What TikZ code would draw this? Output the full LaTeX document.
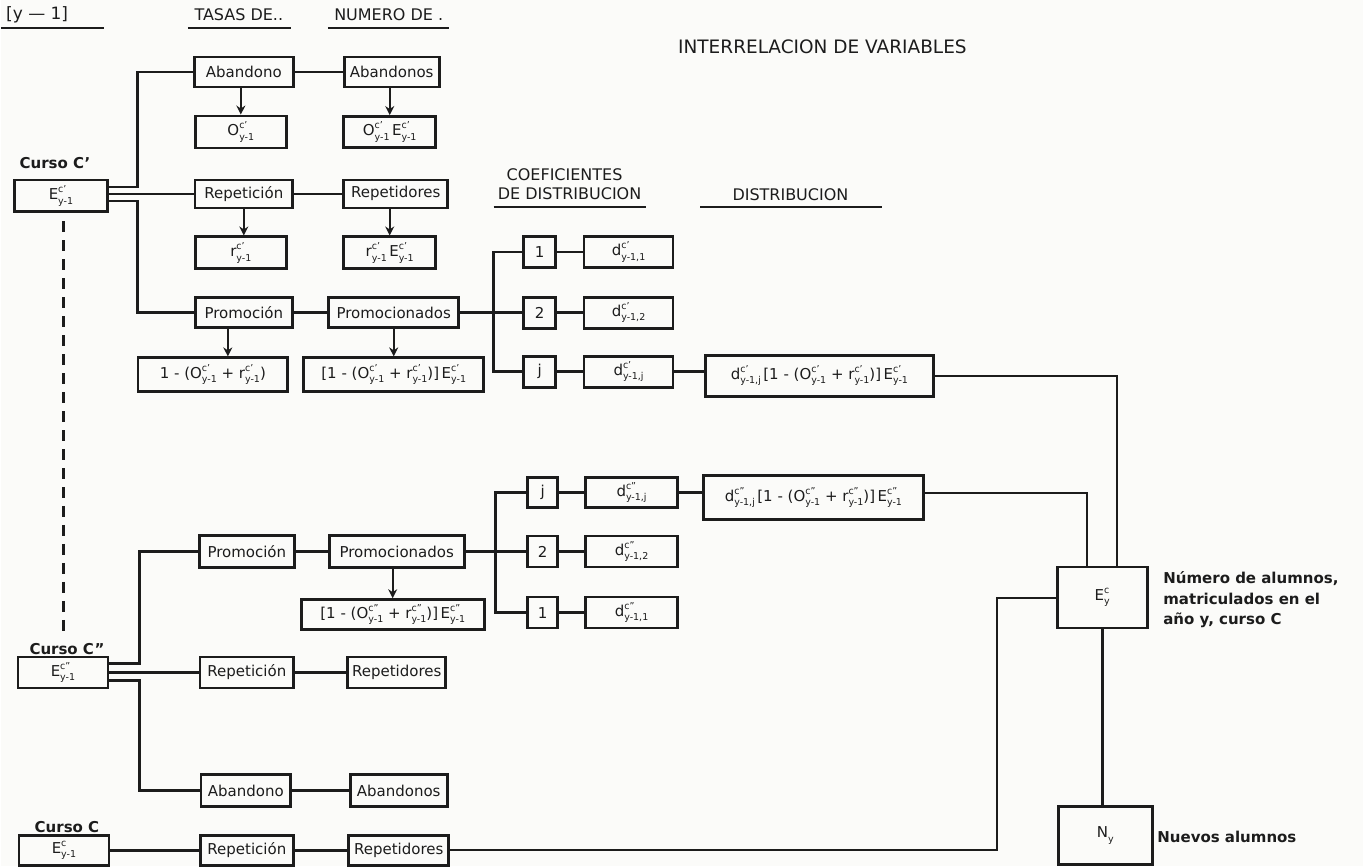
\documentclass[tikz,border=0pt]{standalone}
\usepackage{fontspec}
\setmainfont{DejaVu Sans}
\usetikzlibrary{arrows.meta,calc}
\definecolor{ink}{RGB}{28,28,28}
\definecolor{paper}{RGB}{251,251,249}
% variable with superscript course index and subscript year
\newcommand\vr[3]{#1\begingroup\fontsize{9.5}{9.5}\selectfont
  \rlap{\raisebox{7pt}{#2}}\raisebox{-4.5pt}{#3}\endgroup}
\newcommand\sbx[2]{#1\begingroup\fontsize{9.5}{9.5}\selectfont\raisebox{-4.5pt}{#2}\endgroup}
\begin{document}
\begin{tikzpicture}[x=1pt,y=-1pt,
  bx/.style={draw=ink, line width=2.7pt, inner sep=0pt, text=ink,
             font=\fontsize{15}{17}\selectfont},
  sz/.style 2 args={minimum width=#1pt, minimum height=#2pt},
  ln/.style={draw=ink, line width=2.6pt},
  lnt/.style={draw=ink, line width=2pt},
  arr/.style={draw=ink, line width=2.2pt, -{Stealth[length=9pt,width=9pt]}},
  hdr/.style={font=\fontsize{16}{18}\selectfont, text=ink, inner sep=0pt},
  ul/.style={draw=ink, line width=2pt},
  cur/.style={font=\bfseries\fontsize{15}{17}\selectfont, text=ink, inner sep=0pt},
  note/.style={font=\bfseries\fontsize{15}{20.5}\selectfont, text=ink, inner sep=0pt, align=left},
]
\fill[paper] (0,0) rectangle (1363,867);

% ---------------- headings
\node[hdr, font=\fontsize{17}{19}\selectfont, anchor=west] (hy) at (5,15) {[y — 1]};
\node[hdr] (htasa) at (238,15) {TASAS DE..};
\node[hdr] (hnum) at (388,15) {NUMERO DE .};
\node[hdr, font=\fontsize{18.5}{20}\selectfont] (htit) at (822,47) {INTERRELACION DE VARIABLES};
\node[hdr] (hcoef) at (564,175) {COEFICIENTES};
\node[hdr] (hcoef2) at (569,194) {DE DISTRIBUCION};
\node[hdr] (hdist) at (790,195) {DISTRIBUCION};
\draw[ul] (0,28) -- (103,28);
\draw[ul] (187,28) -- (290,28);
\draw[ul] (327,28) -- (448,28);
\draw[ul] (493,207) -- (645,207);
\draw[ul] (700,207) -- (882,207);

% ---------------- course C'
\node[cur] (lC1) at (54,163) {Curso C'};
\node[bx,sz={93}{32}] (E1) at (60,196) {\vr{E}{c'}{y-1}};
\node[bx,sz={99}{30}] (ab1) at (243,72) {Abandono};
\node[bx,sz={95}{30}] (abn1) at (391,72) {Abandonos};
\node[bx,sz={91}{32}] (o1) at (240,132) {\vr{O}{c'}{y-1}};
\node[bx,sz={92}{31}] (on1) at (389,132) {\vr{O}{c'}{y-1}\,\vr{E}{c'}{y-1}};
\node[bx,sz={98}{28}] (rp1) at (243,194) {Repetición};
\node[bx,sz={104}{28}] (rpn1) at (395,194) {Repetidores};
\node[bx,sz={91}{32}] (r1) at (240,253) {\vr{r}{c'}{y-1}};
\node[bx,sz={92}{32}] (rn1) at (389,253) {\vr{r}{c'}{y-1}\,\vr{E}{c'}{y-1}};
\node[bx,sz={97}{30}] (pr1) at (243,313) {Promoción};
\node[bx,sz={130}{30}] (prn1) at (393,313) {Promocionados};
\node[bx,sz={150}{34}] (f1) at (212,375) {1 - (\vr{O}{c'}{y-1} + \vr{r}{c'}{y-1})};
\node[bx,sz={180}{34}] (fn1) at (393,375) {[1 - (\vr{O}{c'}{y-1} + \vr{r}{c'}{y-1})]\,\vr{E}{c'}{y-1}};

\draw[ln] ($(E1.east)+(0,-9)$) -- ++(28.5,0) |- (ab1.west);
\draw[ln] (E1.east |- rp1.west) -- (rp1.west);
\draw[ln] ($(E1.east)+(0,5)$) -- ++(28.5,0) |- (pr1.west);
\draw[ln] (ab1) -- (abn1);
\draw[ln] (rp1) -- (rpn1);
\draw[ln] (pr1) -- (prn1);
\draw[arr] (ab1.south -| o1.north) -- (o1.north);
\draw[arr] (abn1.south -| on1.north) -- (on1.north);
\draw[arr] (rp1.south) -- (rp1.south |- r1.north);
\draw[arr] (rpn1.south -| rn1.north) -- (rn1.north);
\draw[arr] ($(pr1.south)+(-16,0)$) coordinate (pa) -- (pa |- f1.north);
\draw[arr] (prn1.south) -- (fn1.north);

% distribution coefficients of C'
\node[bx,sz={32}{31}] (k11) at (539,252) {1};
\node[bx,sz={89}{31}] (d11) at (628,252) {\vr{d}{c'}{y-1,1}};
\node[bx,sz={32}{31}] (k12) at (539,313) {2};
\node[bx,sz={89}{31}] (d12) at (628,313) {\vr{d}{c'}{y-1,2}};
\node[bx,sz={32}{31}] (k1j) at (539,372) {j};
\node[bx,sz={89}{31}] (d1j) at (628,372) {\vr{d}{c'}{y-1,j}};
\node[bx,sz={228}{41}] (g1) at (819,376) {\vr{d}{c'}{y-1,j}\,[1 - (\vr{O}{c'}{y-1} + \vr{r}{c'}{y-1})]\,\vr{E}{c'}{y-1}};
\coordinate (b1) at (493,313);
\draw[ln] (prn1.east) -- (b1);
\draw[ln] (k11.west) -| (b1) |- (k1j.west);
\draw[ln] (b1) -- (k12.west);
\draw[ln] (k11) -- (d11);
\draw[ln] (k12) -- (d12);
\draw[ln] (k1j) -- (d1j);
\draw[ln] (d1j.east) -- (d1j.east -| g1.west);

% ---------------- course C''
\node[cur] (lC2) at (66,650) {Curso C''};
\node[bx,sz={90}{31}] (E2) at (62,673) {\vr{E}{c''}{y-1}};
\node[bx,sz={95}{32}] (pr2) at (246,552) {Promoción};
\node[bx,sz={135}{32}] (prn2) at (396,552) {Promocionados};
\node[bx,sz={183}{30}] (fn2) at (392,615) {[1 - (\vr{O}{c''}{y-1} + \vr{r}{c''}{y-1})]\,\vr{E}{c''}{y-1}};
\node[bx,sz={94}{31}] (rp2) at (246,673) {Repetición};
\node[bx,sz={98}{31}] (rpn2) at (396,673) {Repetidores};
\node[bx,sz={90}{32}] (ab2) at (245,791) {Abandono};
\node[bx,sz={97}{32}] (abn2) at (398,791) {Abandonos};

\draw[ln] ($(E2.east)+(0,-9)$) -- ++(30,0) |- (pr2.west);
\draw[ln] (E2.east) -- (rp2.west);
\draw[ln] ($(E2.east)+(0,8)$) -- ++(30,0) |- (ab2.west);
\draw[ln] (pr2) -- (prn2);
\draw[ln] (rp2) -- (rpn2);
\draw[ln] (ab2) -- (abn2);
\draw[arr] (prn2.south -| fn2.north) -- (fn2.north);

% distribution coefficients of C''
\node[bx,sz={30}{30}] (k2j) at (542,493) {j};
\node[bx,sz={92}{30}] (d2j) at (631,493) {\vr{d}{c''}{y-1,j}};
\node[bx,sz={30}{31}] (k22) at (542,552) {2};
\node[bx,sz={92}{31}] (d22) at (631,552) {\vr{d}{c''}{y-1,2}};
\node[bx,sz={30}{31}] (k21) at (542,613) {1};
\node[bx,sz={92}{31}] (d21) at (631,613) {\vr{d}{c''}{y-1,1}};
\node[bx,sz={220}{44}] (g2) at (813,498) {\vr{d}{c''}{y-1,j}\,[1 - (\vr{O}{c''}{y-1} + \vr{r}{c''}{y-1})]\,\vr{E}{c''}{y-1}};
\coordinate (b2) at (495,552);
\draw[ln] (prn2.east) -- (b2);
\draw[ln] (k2j.west) -| (b2) |- (k21.west);
\draw[ln] (b2) -- (k22.west);
\draw[ln] (k2j) -- (d2j);
\draw[ln] (k22) -- (d22);
\draw[ln] (k21) -- (d21);
\draw[ln] (d2j.east) -- (d2j.east -| g2.west);

% link between the two earlier courses
\draw[draw=ink, line width=3pt, dash pattern=on 11pt off 8pt]
  ($(E1.south)+(3,8)$) -- ($(lC2.north)+(-3,-6)$);

% ---------------- course C
\node[cur] (lC3) at (66,828) {Curso C};
\node[bx,sz={90}{30}] (E3) at (63,851) {\vr{E}{c}{y-1}};
\node[bx,sz={93}{30}] (rp3) at (246,851) {Repetición};
\node[bx,sz={100}{30}] (rpn3) at (398,851) {Repetidores};
\draw[ln] (E3) -- (rp3);
\draw[ln] (rp3) -- (rpn3);

% ---------------- enrolment in year y
\node[bx,sz={90}{61}] (Ey) at (1102,598) {\vr{E}{c}{y}};
\node[bx,sz={94}{58}] (Ny) at (1105,836) {\sbx{N}{y}};
\node[note, anchor=north west] (nE) at (1163,572) {Número de alumnos,\\matriculados en el\\año y, curso C};
\node[note, anchor=west] (nN) at (1157,838) {Nuevos alumnos};

\draw[lnt] (g1.east) -| ($(Ey.north)+(15,0)$);
\draw[lnt] (g2.east |- d2j.east) -| ($(Ey.north)+(-15,0)$);
\draw[lnt] (rpn3.east) -| ($(Ey.west)+(-59,0)$) -- (Ey.west);
\draw[ln] (Ey.south) -- (Ey.south |- Ny.north);
\end{tikzpicture}
\end{document}
